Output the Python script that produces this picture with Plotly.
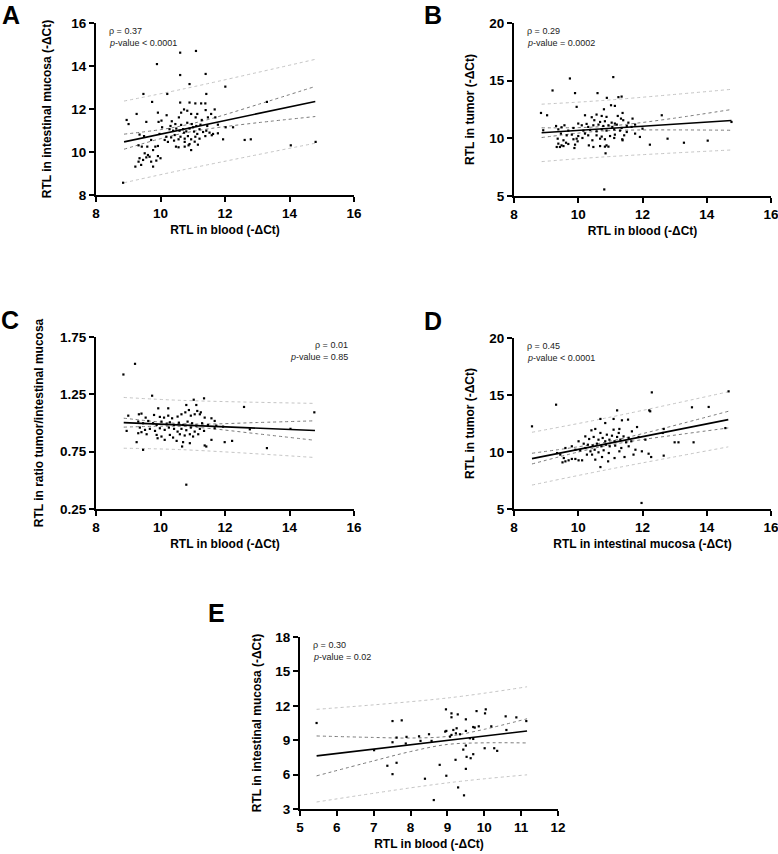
import plotly.graph_objects as go

# ---------------- Panel A: blood vs intestinal mucosa ----------------
A_x = [10.61, 11.10, 9.89, 10.61, 11.40, 10.90, 12.01, 9.47, 10.21, 11.42,
       9.74, 10.61, 10.90, 11.08, 11.26, 11.39, 13.30, 10.73, 10.83, 11.40,
       11.68, 9.26, 9.92, 10.64, 10.95, 11.14, 11.57, 10.19, 10.57, 11.09,
       11.70, 8.95, 9.01, 9.56, 9.94, 10.03, 10.35, 10.46, 10.83, 10.97,
       11.24, 11.45, 11.78, 10.05, 12.02, 12.25, 10.28, 10.39, 10.49, 10.59,
       10.70, 10.80, 10.90, 11.01, 11.11, 11.21, 11.32, 11.42, 11.52, 11.63,
       11.78, 9.35, 9.49, 9.97, 10.18, 10.33, 10.62, 10.75, 10.85, 10.95,
       11.08, 11.21, 11.39, 11.59, 11.94, 12.61, 12.80, 10.13, 10.23, 10.42,
       10.56, 10.75, 10.90, 9.32, 9.42, 9.84, 9.92, 10.48, 10.56, 10.75,
       10.87, 10.95, 11.16, 14.04, 14.81, 9.51, 9.61, 9.66, 9.56, 9.92,
       10.00, 9.35, 9.46, 9.32, 9.71, 9.87, 9.40, 9.22, 9.77, 8.84,
       10.64, 10.73, 11.04, 11.14, 10.44, 10.31, 11.28, 11.47, 9.71, 11.06,
       9.77, 9.59]
A_y = [14.62, 14.70, 14.09, 13.58, 13.63, 13.16, 13.04, 12.70, 12.70, 12.70,
       12.33, 12.30, 12.30, 12.26, 12.26, 12.26, 12.33, 11.98, 11.92, 11.95,
       11.98, 11.77, 11.83, 11.83, 11.77, 11.77, 11.77, 11.71, 11.61, 11.61,
       11.61, 11.49, 11.30, 11.40, 11.40, 11.46, 11.43, 11.30, 11.36, 11.30,
       11.27, 11.21, 11.27, 11.15, 11.15, 11.15, 11.06, 10.99, 11.09, 10.99,
       11.06, 10.96, 11.09, 11.15, 11.21, 11.06, 10.93, 10.99, 10.90, 10.84,
       10.87, 10.81, 10.74, 10.84, 10.71, 10.68, 10.71, 10.62, 10.74, 10.59,
       10.71, 10.62, 10.74, 10.78, 10.59, 10.56, 10.59, 10.56, 10.47, 10.53,
       10.59, 10.47, 10.37, 10.31, 10.25, 10.25, 10.28, 10.25, 10.22, 10.25,
       10.31, 10.09, 10.34, 10.31, 10.47, 9.94, 9.86, 9.78, 9.75, 9.81,
       9.71, 9.71, 9.63, 9.55, 9.55, 9.60, 9.40, 9.32, 9.32, 8.57,
       11.26, 10.90, 10.95, 10.84, 10.79, 11.21, 11.49, 11.61, 10.56, 10.48,
       10.09, 10.25]
A_fit_x = [8.87, 14.80]
A_fit_y = [10.47, 12.35]
A_ci_x = [8.87, 10.0, 10.7, 11.5, 13.0, 14.80]
A_ci_hi = [10.83, 11.04, 11.23, 11.52, 12.20, 13.05]
A_ci_lo = [10.13, 10.62, 10.87, 11.08, 11.36, 11.65]
A_pi_x = [8.87, 10.7, 14.80]
A_pi_hi = [12.37, 12.93, 14.31]
A_pi_lo = [8.57, 9.17, 10.41]

# ---------------- Panel B: blood vs tumor ----------------
B_x = [9.74, 11.09, 9.20, 9.90, 10.60, 10.89, 11.25, 11.35, 9.95, 11.02,
       11.14, 10.80, 8.84, 9.03, 11.38, 12.60, 10.21, 9.31, 12.00, 14.77,
       8.91, 12.23, 12.78, 13.29, 14.03, 10.85, 10.81, 10.42, 10.57, 10.73,
       10.88, 11.23, 11.33, 11.69, 10.50, 10.68, 10.83, 11.04, 11.14, 11.40,
       11.56, 9.48, 9.57, 10.00, 10.11, 10.26, 10.31, 10.47, 10.63, 10.78,
       10.94, 11.06, 11.20, 11.35, 11.51, 11.66, 11.77, 9.38, 9.69, 9.85,
       10.16, 10.37, 10.57, 10.73, 10.88, 11.12, 11.30, 11.51, 9.46, 9.64,
       9.80, 10.00, 10.21, 10.31, 10.57, 10.73, 10.99, 11.14, 11.43, 11.77,
       11.92, 9.36, 9.54, 9.85, 9.95, 10.13, 10.44, 10.68, 10.83, 11.12,
       11.37, 9.38, 9.48, 9.62, 9.69, 9.90, 9.98, 10.33, 10.47, 10.68,
       10.88, 11.38, 9.33, 9.43, 9.54, 9.88, 10.83, 10.94]
B_y = [15.19, 15.31, 14.15, 13.92, 13.92, 13.51, 13.57, 13.62, 12.73, 12.87,
       12.81, 12.52, 12.20, 12.00, 12.20, 12.00, 12.00, 11.07, 10.84, 11.42,
       10.70, 9.45, 9.97, 9.62, 9.80, 8.70, 5.57, 11.83, 12.06, 11.94,
       11.86, 11.94, 11.71, 11.71, 11.57, 11.42, 11.48, 11.36, 11.28, 11.57,
       11.36, 10.96, 11.13, 11.28, 11.13, 11.25, 10.99, 11.13, 11.19, 11.07,
       11.13, 10.99, 11.19, 10.90, 11.07, 10.99, 11.19, 10.78, 10.67, 10.90,
       10.67, 10.73, 10.61, 10.78, 10.67, 10.78, 10.67, 10.55, 10.41, 10.26,
       10.32, 10.20, 10.41, 10.26, 10.26, 10.15, 10.20, 10.32, 10.26, 10.41,
       10.12, 9.97, 9.83, 9.92, 9.97, 10.03, 9.83, 9.97, 9.92, 10.03,
       9.92, 9.54, 9.39, 9.62, 9.51, 9.45, 9.74, 9.39, 9.25, 9.33,
       9.39, 9.83, 9.25, 9.25, 9.33, 9.16, 9.28, 9.28]
B_fit_x = [8.86, 14.77]
B_fit_y = [10.49, 11.54]
B_ci_x = [8.86, 10.0, 10.7, 11.5, 13.0, 14.77]
B_ci_hi = [10.91, 10.93, 11.01, 11.21, 11.75, 12.50]
B_ci_lo = [10.07, 10.45, 10.63, 10.71, 10.73, 10.70]
B_pi_x = [8.86, 10.7, 14.77]
B_pi_hi = [12.96, 13.27, 14.25]
B_pi_lo = [7.98, 8.37, 8.99]

# ---------------- Panel C: blood vs ratio tumor/intestinal mucosa ----------------
C_x = [9.00, 9.33, 9.41, 9.54, 9.80, 9.98, 10.11, 10.24, 10.36, 10.53,
       10.65, 10.77, 10.94, 11.06, 11.25, 11.37, 11.58, 11.68, 9.31, 9.46,
       9.62, 9.77, 9.88, 10.03, 10.19, 10.29, 10.42, 10.57, 10.70, 10.84,
       10.98, 11.11, 11.29, 11.47, 9.36, 9.52, 9.67, 9.83, 9.98, 10.13,
       10.26, 10.42, 10.53, 10.65, 10.80, 10.94, 11.06, 11.22, 11.35, 11.68,
       9.31, 9.41, 9.57, 9.88, 10.03, 10.29, 10.39, 10.60, 10.75, 10.91,
       11.01, 11.17, 9.91, 10.13, 10.50, 8.95, 9.26, 9.46, 10.70, 10.91,
       10.67, 11.37, 11.42, 11.58, 11.99, 12.22, 13.30, 14.03, 9.21, 8.85,
       9.74, 11.35, 11.03, 12.59, 14.77, 10.80, 11.11, 9.93, 10.88, 11.14,
       11.22, 10.80, 10.24, 11.73, 11.94, 12.77]
C_y = [1.064, 1.076, 1.082, 1.047, 1.070, 1.053, 1.047, 1.064, 1.041, 1.056,
       1.076, 1.093, 1.064, 1.076, 1.093, 1.047, 1.041, 1.018, 1.012, 0.998,
       1.018, 0.998, 0.983, 1.012, 0.989, 1.006, 0.983, 1.003, 0.983, 1.012,
       0.998, 0.977, 0.998, 0.983, 0.960, 0.940, 0.949, 0.931, 0.954, 0.940,
       0.960, 0.949, 0.925, 0.949, 0.937, 0.960, 0.925, 0.949, 0.931, 0.954,
       0.911, 0.920, 0.902, 0.896, 0.882, 0.896, 0.873, 0.902, 0.891, 0.902,
       0.882, 0.902, 0.867, 0.853, 0.844, 0.931, 0.833, 0.766, 0.833, 0.824,
       0.795, 0.804, 0.795, 0.853, 0.833, 0.844, 0.781, 0.949, 1.516, 1.423,
       1.238, 1.215, 1.203, 1.140, 1.093, 1.157, 1.157, 1.128, 1.113, 1.105,
       1.076, 0.462, 1.128, 0.977, 0.968, 0.945]
C_fit_x = [8.86, 14.79]
C_fit_y = [1.003, 0.934]
C_ci_x = [8.86, 10.0, 10.7, 11.5, 13.0, 14.79]
C_ci_hi = [1.042, 1.008, 0.994, 0.991, 1.004, 1.019]
C_ci_lo = [0.964, 0.972, 0.970, 0.953, 0.906, 0.849]
C_pi_x = [8.86, 10.7, 14.79]
C_pi_hi = [1.223, 1.197, 1.171]
C_pi_lo = [0.780, 0.767, 0.699]

# ---------------- Panel D: intestinal mucosa vs tumor ----------------
D_x = [10.41, 10.53, 11.10, 11.28, 11.67, 11.83, 11.26, 10.69, 10.89, 11.05,
       11.21, 11.41, 11.57, 11.88, 12.09, 10.22, 10.34, 10.48, 10.63, 10.76,
       10.84, 10.97, 11.13, 11.31, 11.49, 11.65, 10.01, 10.17, 10.30, 10.45,
       10.58, 10.72, 10.86, 10.98, 11.15, 11.34, 11.57, 11.78, 9.80, 9.91,
       9.60, 10.06, 10.22, 10.38, 10.51, 10.63, 10.79, 10.95, 9.34, 9.44,
       10.27, 10.43, 11.13, 11.28, 11.44, 11.72, 9.55, 9.70, 9.60, 9.80,
       9.51, 10.12, 10.01, 10.53, 10.74, 10.93, 10.69, 9.91, 8.56, 9.31,
       12.29, 14.68, 11.21, 12.21, 12.24, 13.54, 14.06, 10.69, 11.10, 11.36,
       11.55, 10.84, 12.66, 12.63, 14.58, 13.00, 13.12, 13.59, 12.66, 12.19,
       12.27, 11.98, 11.97]
D_y = [11.90, 12.02, 11.96, 12.02, 11.81, 12.19, 11.67, 11.67, 11.52, 11.43,
       11.32, 11.37, 11.23, 11.32, 11.08, 11.37, 11.14, 11.32, 11.08, 11.23,
       10.94, 11.08, 10.94, 11.08, 10.85, 10.94, 10.94, 10.73, 10.64, 10.56,
       10.73, 10.50, 10.64, 10.50, 10.56, 10.35, 10.50, 10.20, 10.50, 10.20,
       10.35, 10.15, 10.35, 10.06, 10.20, 9.97, 10.15, 9.91, 9.91, 9.77,
       9.77, 9.77, 9.47, 10.06, 9.56, 9.77, 9.47, 9.27, 9.18, 9.39,
       9.09, 9.27, 9.27, 9.33, 9.56, 9.18, 8.68, 9.39, 12.25, 14.15,
       15.23, 15.32, 13.65, 13.65, 13.57, 13.92, 13.95, 12.90, 12.90, 12.78,
       12.84, 12.54, 12.02, 11.67, 12.10, 10.85, 10.85, 10.85, 9.68, 9.85,
       9.56, 10.06, 5.53]
D_fit_x = [8.56, 14.67]
D_fit_y = [9.42, 12.84]
D_ci_x = [8.56, 10.0, 10.9, 12.0, 13.3, 14.67]
D_ci_hi = [9.89, 10.46, 10.89, 11.61, 12.55, 13.57]
D_ci_lo = [8.95, 10.00, 10.57, 11.09, 11.59, 12.11]
D_pi_x = [8.56, 10.9, 14.67]
D_pi_hi = [11.73, 13.00, 15.28]
D_pi_lo = [7.10, 8.45, 10.45]

# ---------------- Panel E: blood vs intestinal mucosa (subgroup) ----------------
E_x = [5.45, 7.51, 7.76, 8.96, 9.11, 9.11, 9.28, 9.79, 10.04, 10.02,
       10.58, 10.87, 11.14, 9.50, 9.70, 9.74, 9.85, 10.19, 10.60, 8.97,
       8.94, 9.16, 9.25, 9.50, 9.11, 9.07, 9.23, 9.34, 9.61, 9.70,
       7.62, 7.51, 7.89, 8.23, 8.27, 8.50, 7.87, 8.57, 7.01, 9.50,
       9.43, 10.01, 10.27, 10.35, 9.52, 9.63, 9.70, 9.22, 7.37, 7.62,
       8.79, 7.51, 9.50, 8.97, 8.39, 9.29, 9.45, 8.63]
E_y = [10.50, 10.67, 10.73, 11.69, 11.34, 11.00, 11.25, 11.54, 11.69, 11.34,
       11.08, 10.99, 10.67, 10.82, 10.15, 10.10, 10.21, 10.21, 9.89, 9.81,
       9.75, 9.89, 10.04, 9.81, 9.46, 9.31, 9.60, 9.52, 9.17, 9.11,
       9.23, 8.82, 9.29, 9.34, 8.94, 9.52, 8.71, 8.94, 8.13, 8.53,
       8.18, 8.30, 8.30, 8.07, 7.55, 7.43, 7.78, 7.29, 6.77, 7.03,
       6.85, 6.04, 6.50, 5.90, 5.64, 4.88, 4.19, 3.78]
E_fit_x = [5.45, 11.16]
E_fit_y = [7.63, 9.80]
E_ci_x = [5.45, 7.0, 8.0, 9.0, 10.0, 11.16]
E_ci_hi = [9.37, 9.24, 9.19, 9.33, 9.95, 10.87]
E_ci_lo = [5.89, 7.20, 8.01, 8.63, 8.77, 8.76]
E_pi_x = [5.45, 9.0, 11.16]
E_pi_hi = [11.69, 12.68, 13.66]
E_pi_lo = [3.61, 5.28, 5.98]

# ---------------- Text ----------------
X_BLOOD = "RTL in blood (-ΔCt)"
X_MUCOSA = "RTL in intestinal mucosa (-ΔCt)"
Y_MUCOSA = "RTL in intestinal mucosa (-ΔCt)"
Y_TUMOR = "RTL in tumor (-ΔCt)"
Y_RATIO = "RTL in ratio tumor/intestinal mucosa"
RHO = ["ρ = 0.37", "ρ = 0.29", "ρ = 0.01", "ρ = 0.45", "ρ = 0.30"]
PVAL = ["<i>p</i>-value &lt; 0.0001", "<i>p</i>-value = 0.0002",
        "<i>p</i>-value = 0.85", "<i>p</i>-value &lt; 0.0001", "<i>p</i>-value = 0.02"]
LETTERS = ["A", "B", "C", "D", "E"]

for nm, xs, ys in [("A", A_x, A_y), ("B", B_x, B_y), ("C", C_x, C_y), ("D", D_x, D_y), ("E", E_x, E_y)]:
    assert len(xs) == len(ys), nm

W, H = 778, 854
FONT = "Liberation Sans, Arial, sans-serif"

# plot-area boxes in pixels (left, right, top, bottom)
boxes = [(96, 354, 23, 195), (514, 771, 23, 196), (96, 354, 337, 509),
         (514, 771, 338, 509), (300, 558, 637, 809)]
y_standoff = [17, 12, 14, 12, 11]

panels = [
    dict(x=A_x, y=A_y, fx=A_fit_x, fy=A_fit_y, cx=A_ci_x, chi=A_ci_hi, clo=A_ci_lo,
         px=A_pi_x, phi=A_pi_hi, plo=A_pi_lo, xr=[8, 16], xt=[8, 10, 12, 14, 16],
         yr=[8, 16], yt=[8, 10, 12, 14, 16], xtitle=X_BLOOD, ytitle=Y_MUCOSA),
    dict(x=B_x, y=B_y, fx=B_fit_x, fy=B_fit_y, cx=B_ci_x, chi=B_ci_hi, clo=B_ci_lo,
         px=B_pi_x, phi=B_pi_hi, plo=B_pi_lo, xr=[8, 16], xt=[8, 10, 12, 14, 16],
         yr=[5, 20], yt=[5, 10, 15, 20], xtitle=X_BLOOD, ytitle=Y_TUMOR),
    dict(x=C_x, y=C_y, fx=C_fit_x, fy=C_fit_y, cx=C_ci_x, chi=C_ci_hi, clo=C_ci_lo,
         px=C_pi_x, phi=C_pi_hi, plo=C_pi_lo, xr=[8, 16], xt=[8, 10, 12, 14, 16],
         yr=[0.25, 1.75], yt=[0.25, 0.75, 1.25, 1.75], xtitle=X_BLOOD, ytitle=Y_RATIO),
    dict(x=D_x, y=D_y, fx=D_fit_x, fy=D_fit_y, cx=D_ci_x, chi=D_ci_hi, clo=D_ci_lo,
         px=D_pi_x, phi=D_pi_hi, plo=D_pi_lo, xr=[8, 16], xt=[8, 10, 12, 14, 16],
         yr=[5, 20], yt=[5, 10, 15, 20], xtitle=X_MUCOSA, ytitle=Y_TUMOR),
    dict(x=E_x, y=E_y, fx=E_fit_x, fy=E_fit_y, cx=E_ci_x, chi=E_ci_hi, clo=E_ci_lo,
         px=E_pi_x, phi=E_pi_hi, plo=E_pi_lo, xr=[5, 12], xt=[5, 6, 7, 8, 9, 10, 11, 12],
         yr=[3, 18], yt=[3, 6, 9, 12, 15, 18], xtitle=X_BLOOD, ytitle=Y_MUCOSA),
]

fig = go.Figure()
layout = dict(width=W, height=H, margin=dict(l=0, r=0, t=0, b=0, autoexpand=False),
              paper_bgcolor="white", plot_bgcolor="white", showlegend=False,
              font=dict(family=FONT, color="black"))
annotations = []

for i, (p, box) in enumerate(zip(panels, boxes)):
    n = "" if i == 0 else str(i + 1)
    xa, ya = "x" + n, "y" + n
    l, r, t, b = box
    common = dict(showline=True, linewidth=2, linecolor="black", ticks="outside",
                  ticklen=5, tickwidth=2, tickcolor="black", showgrid=False,
                  zeroline=False, mirror=False, automargin=False, ticklabeloverflow="allow",
                  tickfont=dict(family=FONT, size=13.5, color="black", weight="bold"))
    layout["xaxis" + n] = dict(common, domain=[l / W, r / W], anchor=ya, range=p["xr"],
                               tickmode="array", tickvals=p["xt"],
                               title=dict(text=p["xtitle"], standoff=5,
                                          font=dict(family=FONT, size=12, weight="bold")))
    layout["yaxis" + n] = dict(common, domain=[1 - b / H, 1 - t / H], anchor=xa, range=p["yr"],
                               tickmode="array", tickvals=p["yt"],
                               ticktext=[("%.2f" % v) if i == 2 else str(v) for v in p["yt"]],
                               title=dict(text=p["ytitle"], standoff=y_standoff[i],
                                          font=dict(family=FONT, size=12, weight="bold")))
    # prediction band
    for band in (p["phi"], p["plo"]):
        fig.add_trace(go.Scatter(x=p["px"], y=band, mode="lines", xaxis=xa, yaxis=ya,
                                 line=dict(color="#c4c4c4", width=1, dash="dot", shape="spline"),
                                 hoverinfo="skip"))
    # confidence band
    for band in (p["chi"], p["clo"]):
        fig.add_trace(go.Scatter(x=p["cx"], y=band, mode="lines", xaxis=xa, yaxis=ya,
                                 line=dict(color="#7a7a7a", width=1, dash="dot", shape="spline"),
                                 hoverinfo="skip"))
    # points
    fig.add_trace(go.Scatter(x=p["x"], y=p["y"], mode="markers", xaxis=xa, yaxis=ya,
                             marker=dict(symbol="square", size=2.2, color="black"),
                             cliponaxis=False))
    # regression line
    fig.add_trace(go.Scatter(x=p["fx"], y=p["fy"], mode="lines", xaxis=xa, yaxis=ya,
                             line=dict(color="black", width=1.6)))

    # stats text
    if i == 2:
        tx, anchor = (r - 4) / W, "right"
    else:
        tx, anchor = (l + 11) / W, "left"
    annotations.append(dict(text=RHO[i], x=tx, y=1 - (t + 8) / H, xref="paper", yref="paper",
                            xanchor=anchor, yanchor="middle", showarrow=False,
                            font=dict(family=FONT, size=9, color="#222")))
    annotations.append(dict(text=PVAL[i], x=tx, y=1 - (t + 20) / H, xref="paper", yref="paper",
                            xanchor=anchor, yanchor="middle", showarrow=False,
                            font=dict(family=FONT, size=9, color="#222")))

letter_pos = [(11, 15), (433, 15), (10, 320), (433, 321), (216, 613)]
for letter, (lx, ly) in zip(LETTERS, letter_pos):
    annotations.append(dict(text="<b>" + letter + "</b>", x=lx / W, y=1 - ly / H,
                            xref="paper", yref="paper", xanchor="center", yanchor="middle",
                            showarrow=False, font=dict(family=FONT, size=25, color="black")))

layout["annotations"] = annotations
fig.update_layout(**layout)
fig.write_html("out.html")
